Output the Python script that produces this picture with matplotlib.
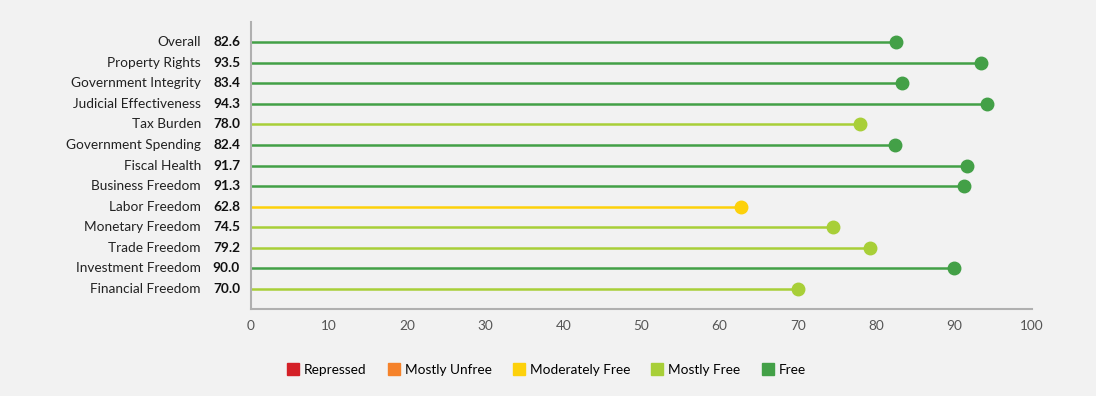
import matplotlib
matplotlib.use("Agg")
import matplotlib.pyplot as plt
from matplotlib.lines import Line2D

categories = ["Overall", "Property Rights", "Government Integrity", "Judicial Effectiveness",
              "Tax Burden", "Government Spending", "Fiscal Health", "Business Freedom",
              "Labor Freedom", "Monetary Freedom", "Trade Freedom", "Investment Freedom",
              "Financial Freedom"]
scores = [82.6, 93.5, 83.4, 94.3, 78.0, 82.4, 91.7, 91.3, 62.8, 74.5, 79.2, 90.0, 70.0]
x_ticks = [0, 10, 20, 30, 40, 50, 60, 70, 80, 90, 100]
legend_labels = ["Repressed", "Mostly Unfree", "Moderately Free", "Mostly Free", "Free"]
legend_colors = ["#d42027", "#f5822a", "#fdd10b", "#a8cf38", "#43a047"]
thresholds = [50, 60, 70, 80]

def color_for(v):
    idx = sum(v >= t for t in thresholds)
    return legend_colors[idx]

plt.rcParams['font.family'] = ['Lato', 'DejaVu Sans']
bg = "#f2f2f2"
fig = plt.figure(figsize=(10.96, 3.96), dpi=100, facecolor=bg)
ax = fig.add_axes([251/1096, 1-309/396, (1032-251)/1096, (309-22)/396])
ax.set_facecolor(bg)

for i, v in enumerate(scores):
    c = color_for(v)
    ax.plot([0, v], [i, i], color=c, lw=1.8, solid_capstyle='butt', zorder=2)
    ax.plot([v], [i], 'o', color=c, markersize=9, zorder=3)

ax.set_ylim(len(categories) - 1 + 0.97, -0.97)
ax.set_xlim(0, 100)
ax.set_xticks(x_ticks)
ax.tick_params(axis='x', length=0, pad=8, labelsize=9.8, labelcolor="#555555")
ax.set_yticks([])
for s in ["top", "right"]:
    ax.spines[s].set_visible(False)
for s in ["left", "bottom"]:
    ax.spines[s].set_color("#b0b0b0")
    ax.spines[s].set_linewidth(1.5)

trans = ax.get_yaxis_transform()
for i, (name, v) in enumerate(zip(categories, scores)):
    ax.text(-50/781, i, name, transform=trans, ha='right', va='center',
            fontsize=9.8, color="#222222")
    ax.text(-11/781, i, f"{v:.1f}", transform=trans, ha='right', va='center',
            fontsize=9.8, fontweight='bold', color="#111111")

handles = [Line2D([], [], marker='s', linestyle='none', markersize=9, color=c)
           for c in legend_colors]
fig.legend(handles, legend_labels, loc='center', bbox_to_anchor=(546/1096, 1-370/396),
           ncol=5, frameon=False, fontsize=9.8, handletextpad=0.3, columnspacing=1.5,
           handlelength=1.0)

fig.savefig("out.png", dpi=100, facecolor=bg)
